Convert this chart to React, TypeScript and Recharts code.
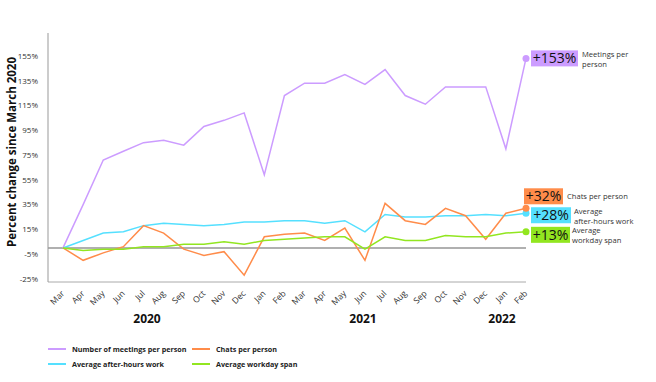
import { LineChart, Line, XAxis, YAxis, ReferenceLine } from 'recharts';

const months = ['Mar', 'Apr', 'May', 'Jun', 'Jul', 'Aug', 'Sep', 'Oct', 'Nov', 'Dec', 'Jan', 'Feb', 'Mar', 'Apr', 'May', 'Jun', 'Jul', 'Aug', 'Sep', 'Oct', 'Nov', 'Dec', 'Jan', 'Feb'];
const meetings = [0, 35, 71, 78, 85, 87, 83, 98, 103, 109, 59, 123, 133, 133, 140, 132, 144, 123, 116, 130, 130, 130, 80, 153];
const afterHours = [0, 6, 12, 13, 18, 20, 19, 18, 19, 21, 21, 22, 22, 20, 22, 13, 27, 25, 25, 26, 26, 27, 26, 28];
const chats = [0, -10, -4, 1, 18, 12, -1, -6, -3, -22, 9, 11, 12, 6, 16, -10, 36, 22, 19, 32, 26, 7, 28, 32];
const workday = [0, -2, -1, -1, 1, 1, 3, 3, 5, 3, 6, 7, 8, 9, 9, -1, 9, 6, 6, 10, 9, 9, 12, 13];
const yTicks = [-25, -5, 15, 35, 55, 75, 95, 115, 135, 155];
const years = [
  { label: '2020', left: 147 },
  { label: '2021', left: 363 },
  { label: '2022', left: 502 },
];

const data = months.map((m, i) => ({
  month: m,
  meetings: meetings[i],
  afterHours: afterHours[i],
  chats: chats[i],
  workday: workday[i],
}));

const FONT = '"Open Sans", "Noto Sans", sans-serif';
const last = months.length - 1;

const series = [
  { key: 'meetings', name: 'Number of meetings per person', color: '#cc9cff', boxDx: 5, boxDy: -8, boxW: 47, desc: ['Meetings per', 'person'], descDx: 56, descDy: -1.5 },
  { key: 'chats', name: 'Chats per person', color: '#ff8c4a', boxDx: -2, boxDy: -20, boxW: 39, desc: ['Chats per person'], descDx: 41, descDy: -9 },
  { key: 'afterHours', name: 'Average after-hours work', color: '#55e0ff', boxDx: 5, boxDy: -6, boxW: 40, desc: ['Average', 'after-hours work'], descDx: 48, descDy: 0.5 },
  { key: 'workday', name: 'Average workday span', color: '#92e620', boxDx: 5, boxDy: -5, boxW: 39, desc: ['Average', 'workday span'], descDx: 46, descDy: 1.5 },
];

function endDot(color: string) {
  return (props: any) => {
    if (props.index !== last) return null;
    return <circle key={props.index} cx={props.cx} cy={props.cy} r={3.5} fill={color} stroke="none" />;
  };
}

function endLabel(s: typeof series[number]) {
  return (props: any) => {
    if (props.index !== last) return null;
    const { x, y, value } = props;
    const bx = x + s.boxDx;
    const by = y + s.boxDy;
    return (
      <g key="end">
        <rect x={bx} y={by} width={s.boxW} height={16} fill={s.color} />
        <text x={bx + s.boxW / 2} y={by + 13} textAnchor="middle" fontSize={14} fill="#111" fontFamily={FONT}>
          +{value}%
        </text>
        {s.desc.map((line, i) => (
          <text key={i} x={x + s.descDx} y={y + s.descDy + i * 10} fontSize={7.6} fill="#333" fontFamily={FONT}>
            {line}
          </text>
        ))}
      </g>
    );
  };
}

function MonthTick(props: any) {
  const { x, y, payload } = props;
  return (
    <text x={x + 2} y={y + 4} transform={`rotate(-45, ${x + 2}, ${y + 4})`} textAnchor="end" fontSize={8.5} fill="#333" fontFamily={FONT}>
      {payload.value}
    </text>
  );
}

function LegendBox() {
  return (
    <div style={{ position: 'absolute', left: 48, top: 344, display: 'grid', gridTemplateColumns: '144px 170px', rowGap: 5, fontFamily: FONT, fontSize: 7.2, fontWeight: 700, color: '#222' }}>
      {series.map((s) => (
        <div key={s.key} style={{ display: 'flex', alignItems: 'center', whiteSpace: 'nowrap', height: 10 }}>
          <span style={{ display: 'inline-block', width: 18, height: 2, background: s.color, marginRight: 6 }} />
          {s.name}
        </div>
      ))}
    </div>
  );
}

export default function App() {
  const order = ['meetings', 'afterHours', 'chats', 'workday'];
  return (
    <div style={{ position: 'absolute', left: 0, top: 0, width: 656, height: 382, background: '#fff', fontFamily: FONT }}>
      <LineChart width={656} height={382} data={data} margin={{ top: 33, right: 130, bottom: 70, left: 0 }}>
        <XAxis dataKey="month" interval={0} tick={<MonthTick />} tickLine={false} axisLine={{ stroke: '#aaa' }} height={30} padding={{ left: 15, right: 0 }} />
        <YAxis
          width={48}
          domain={[-27.5, 173.5]}
          ticks={yTicks}
          tickFormatter={(v) => `${v}%`}
          tickLine={false}
          axisLine={{ stroke: '#999' }}
          tick={{ fontSize: 8, fill: '#333', fontFamily: FONT }}
          tickMargin={4}
        />
        <ReferenceLine y={0} stroke="#b0b0b0" strokeWidth={2} />
        {order.map((k) => {
          const s = series.find((it) => it.key === k)!;
          return (
            <Line
              key={k}
              type="linear"
              dataKey={k}
              name={s.name}
              stroke={s.color}
              strokeWidth={1.5}
              dot={endDot(s.color)}
              activeDot={false}
              label={endLabel(s)}
              isAnimationActive={false}
            />
          );
        })}
      </LineChart>
      <LegendBox />
      <div
        style={{
          position: 'absolute',
          left: 11,
          top: 152,
          transform: 'translate(-50%, -50%) rotate(-90deg)',
          whiteSpace: 'nowrap',
          fontSize: 11.5,
          fontWeight: 700,
          color: '#111',
        }}
      >
        Percent change since March 2020
      </div>
      {years.map((yr) => (
        <div
          key={yr.label}
          style={{ position: 'absolute', left: yr.left, top: 318, transform: 'translate(-50%, -50%)', fontSize: 12, fontWeight: 700, color: '#111' }}
        >
          {yr.label}
        </div>
      ))}
    </div>
  );
}
